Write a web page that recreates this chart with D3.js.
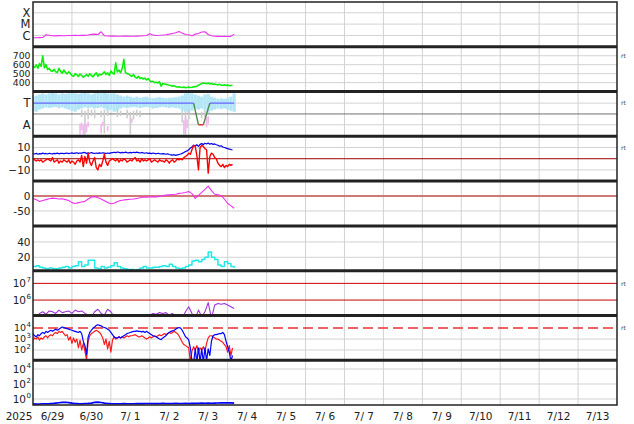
<!DOCTYPE html>
<html><head><meta charset="utf-8">
<script src="https://cdn.jsdelivr.net/npm/d3@7"></script>
<style>body{margin:0;background:#fff}svg{display:block}text{font-family:"DejaVu Sans",sans-serif;fill:#222}</style>
</head><body><svg id="c" width="634" height="424"></svg>
<script>
// ---------------- data ----------------
const dayLabels = ["6/29","6/30","7/ 1","7/ 2","7/ 3","7/ 4","7/ 5","7/ 6","7/ 7","7/ 8","7/ 9","7/10","7/11","7/12","7/13"];
const yearLabel = "2025";
// X-ray flux (units 1e-7 W/m2), every 2 h from 6/29 00UT
const xray = [6.3,6.2,6.4,6.5,11.5,10.5,9.4,9.2,9.6,9.3, 9.5,9.8,10,10.2,9.8,10.3,10.1,11,12.5,13,
 12,21,9.5,8.8,8.7,8.9,8.6,8.5,8.8,8.7, 8.6,8.5,8.7,9.0,9.5,10,14,11,10,10.3,
 10.8,11.5,13,15,17,22,16,12,11.5,9.5, 13,15,20,21,12,9.5,8.5,8.2,8,8.3, 8.1,8.2,13];
// solar wind speed km/s, hourly
const speed = [585,570,598,560,612,580,700,565,600,545, 560,530,528,548,520,512,560,525,505,540,
 515,498,520,505,480,470,500,485,470,495, 480,460,475,490,470,500,480,465,490,510,
 470,495,485,500,520,490,510,480,530,505, 495,620,520,540,510,560,660,510,500,495,
 480,470,490,460,450,470,445,455,440,450, 430,445,420,410,415,400,405,395,410,360,
 390,385,380,375,370,368,360,365,355,350, 352,348,345,350,342,346,350,345,348,352,
 355,360,370,380,390,395,392,388,396,385, 390,380,385,378,375,380,372,370,375,368,
 372,365,368,370];
// IMF sector: light-blue cloud range (every 2 h), T=+1, A=-1
const towardHi = [1.6,1.7,1.8,1.9,1.8,1.9,1.95,1.9,1.8,1.9, 1.85,1.9,1.95,1.9,1.85,1.9,1.95,1.9,1.8,1.9,
 1.95,1.9,1.95,1.9,1.85,1.9,1.8,1.7,1.6,1.7, 1.6,1.5,1.6,1.5,1.55,1.6,1.5,1.45,1.5,1.55,
 1.5,1.45,1.5,1.5,1.55,1.6,1.7,1.9,1.95,1.9, 1.8,1.7,1.6,1.8,1.85,1.6,1.5,1.4,1.45,1.4, 1.5,1.6,1.9];
const towardLo = [0.3,0.2,0.4,0.5,0.6,0.55,0.6,0.65,0.55,0.6, 0.5,0.4,0.3,0.2,0.4,0.5,0.6,0.55,0.6,0.5,
 0.55,0.6,0.5,0.3,0.4,0.2,0.3,0.5,0.6,0.55, 0.6,0.65,0.6,0.55,0.6,0.65,0.6,0.5,0.55,0.6,
 0.65,0.6,0.55,0.6,0.55,0.5,0.3,0.2,0.1,0.3, 0.5,0.4,0.5,0.3,0.1,0.3,0.4,0.5,0.45,0.5, 0.4,0.3,0.2];
const grayHours = [30,32,34,36,38,42,44,46,52,54,58,60,62,64,66,92,94,96,104,106];
const grayLo = [-0.3,-1.9,-0.5,-0.2,-0.4,-0.3,-1.8,-0.2,-0.3,-0.2,-0.4,-1.9,-0.5,-0.2,-0.3,-0.8,-1.9,-0.5,-0.4,-0.3];
const grayHi = [0.4,0.3,0.5,0.4,0.4,0.3,0.4,0.3,0.4,0.3,0.4,0.2,0.3,0.4,0.3,0.3,0.2,0.4,0.2,0.3];
const awayHours = [29,30,31,33,34,42,43,46,61,93,94,95,107,108];
const awayLo = [-1.9,-1.5,-1.9,-1.7,-1.2,-1.8,-1.1,-1.6,-0.8,-1.9,-1.6,-1.3,-1.2,-0.9];
const awayHi = [-0.9,-0.8,-1.0,-0.9,-0.7,-0.9,-0.7,-1.1,-0.4,-0.6,-0.3,-0.5,-0.3,-0.2];
const sectorHours = [0,99,102,105,109,124];
const sectorVals = [1,1,-1,-1,1,1];
// IMF Bt and Bz (nT), hourly
const bt = [4.5,4.2,4.8,4.0,4.6,4.3,5.0,4.4,4.7,4.2, 4.9,4.5,4.3,4.8,4.6,5.0,4.4,4.7,4.9,4.5,
 4.8,5.1,4.6,4.9,5.2,4.7,5.0,5.3,4.8,5.1, 5.0,5.4,5.6,4.6,5.2,4.9,5.5,5.0,4.7,5.1,
 4.8,5.2,4.9,5.3,5.0,4.7,5.1,4.8,5.2,5.5, 5.8,5.4,6.0,5.6,5.2,5.7,5.3,5.9,5.5,5.2,
 5.6,5.3,5.8,5.4,5.9,5.5,5.1,5.6,5.2,4.9, 5.3,4.8,5.0,4.6,5.1,4.7,4.4,4.9,4.5,4.2,
 4.6,4.3,4.0,4.4,3.8,3.5,3.2,3.6,3.0,3.4, 3.8,4.2,4.8,5.5,6.5,7.0,8.0,9.5,10.5,12.0,
 11.5,12.5,11.0,12.8,13.5,12.6,13.8,13.2,14.0,13.0, 13.6,12.8,13.2,12.5,12.0,11.2,11.6,10.5,10.0,9.5,
 9.0,8.6,8.2,7.8];
const bz = [0,-1,-2,-1,-2,-1,-3,-2,-1,0, -1,-2,1,-3,-2,-1,-4,-2,-3,-1,
 -2,-3,-1,-4,-2,-3,-5,-2,-1,-3, 3,-7,2,-4,5,-3,-6,-2,1,-8,
 -10,-5,-7,-2,4,-3,-6,-2,-1,0, -1,-2,0,-3,-1,-2,0,-1,-3,-2,
 -1,-2,0,1,-2,-1,-3,0,-2,-1, -2,-1,0,-3,-2,-1,-2,-3,-1,-2,
 -2,-3,-1,-2,-4,-2,-1,-3,-2,0, -1,0,-1,1,2,3,5,4,8,12,
 11,3,-10,10,12,11,9,8,-13,2, 5,4,1,0,-4,-6,-7,-5,-8,-6, -7,-5,-6,-5];
// Dst (nT), every 2 h
const dst = [-8,-12,-18,-15,-12,-9,-7,-8,-10,-9, -12,-15,-22,-25,-22,-20,-18,-10,-3,-2,
 -6,-10,-16,-22,-26,-24,-18,-15,-13,-12, -11,-10,-8,-6,-3,-4,-3,-2,-3,-1,
 1,3,4,5,6,9,10,12,15,8, -8,2,12,22,33,18,6,4,2,-10, -25,-32,-41];
// geomagnetic activity index, every 2 h
const activity = [8,9,7,6,5,6,5,5,6,7, 8,6,8,9,14,8,10,16,16,6,
 5,8,6,7,9,13,8,6,5,4, 4,3,4,6,8,6,6,7,7,8,
 9,8,11,8,6,5,6,8,10,15, 16,14,17,20,27,20,17,10,8,14, 12,8,6];
// electron flux (log10), every 2 h
const electronLog = [4.9,4.9,5.2,5.3,5.15,5.35,5.3,5.2,5.4,5.25, 5.3,5.35,5.2,5.4,5.3,5.35,5.2,5.1,5.0,5.3,
 5.45,5.2,5.1,5.45,5.3,5.0,4.8,4.8,4.8,4.8, 4.8,4.8,4.8,4.8,4.8,4.8,5.1,5.2,5.15,5.25,
 5.2,5.25,5.1,5.2,5.0,5.15,4.9,5.3,5.6,5.2, 4.9,5.4,5.0,5.3,5.85,4.9,5.7,5.8,5.75,5.8, 5.7,5.6,5.5];
// particle flux (log10), hourly: blue and red traces
const fluxBlueLog = [3.5,3.3,3.2,3.4,3.3,3.5,3.6,3.5,3.7,3.6, 3.7,3.8,3.7,3.8,3.9,3.8,3.9,4.0,4.1,4.05,
 4.0,3.95,3.9,3.85,3.8,3.75,3.7,3.65,3.6,3.7, 3.5,2.8,2.4,1.6,3.2,3.6,3.8,4.0,4.1,4.25,
 4.3,4.25,4.2,4.1,4.05,4.0,3.9,3.8,3.6,3.4, 3.2,3.1,3.1,3.2,3.1,3.2,3.3,3.4,3.5,3.55,
 3.6,3.65,3.7,3.7,3.75,3.7,3.7,3.65,3.7,3.6, 3.7,3.6,3.5,3.4,3.3,3.25,3.2,3.1,3.0,2.95,
 3.1,3.2,3.3,3.5,3.6,3.7,3.75,3.8,3.9,4.0, 4.05,4.0,3.8,3.5,3.2,3.1,2.9,2.2,1.0,0.8,
 2.1,0.9,2.2,0.9,2.1,0.9,2.2,1.0,2.1,1.5, 2.8,3.3,3.4,3.4,3.45,3.5,3.5,3.6,3.4,2.8, 2.3,1.8,1.0,1.5];
const fluxRedLog = [2.9,3.1,3.0,3.2,2.9,3.1,3.0,3.2,3.3,3.1, 3.3,3.4,3.3,3.5,3.6,3.5,3.7,3.6,3.7,3.5,
 3.3,3.4,2.9,3.2,2.6,3.1,2.7,3.0,2.2,2.9, 2.0,2.6,1.9,1.1,2.8,3.3,3.5,3.6,3.7,3.8,
 3.7,3.6,3.4,3.1,2.5,3.0,2.1,2.8,1.8,2.9, 3.2,3.0,3.1,3.2,3.1,3.2,3.1,3.2,3.3,3.2,
 3.3,3.3,3.35,3.4,3.3,3.2,3.2,3.3,3.2,3.1, 3.0,3.1,3.2,3.1,3.2,3.3,3.2,3.3,3.4,3.3,
 3.4,3.5,3.4,3.5,3.6,3.5,3.6,3.7,3.6,3.5, 3.3,3.0,2.7,2.5,2.4,2.3,2.2,0.9,1.9,2.3,
 2.0,2.4,1.8,2.2,2.0,2.3,1.9,2.6,3.1,3.3, 3.3,3.2,3.1,3.0,3.0,2.9,2.8,2.7,2.5,2.3, 1.8,2.4,1.5,2.2];
// bottom panel (log10), every 2 h
const bottomLog = [-0.65,-0.68,-0.66,-0.64,-0.63,-0.62,-0.6,-0.55,-0.5,-0.45,
 -0.44,-0.48,-0.55,-0.6,-0.62,-0.63,-0.6,-0.58,-0.55,-0.45,
 -0.42,-0.47,-0.55,-0.6,-0.62,-0.63,-0.64,-0.63,-0.62,-0.63,
 -0.64,-0.63,-0.62,-0.61,-0.62,-0.6,-0.61,-0.6,-0.62,-0.6,
 -0.58,-0.6,-0.59,-0.6,-0.58,-0.6,-0.59,-0.58,-0.6,-0.57,
 -0.58,-0.56,-0.55,-0.57,-0.55,-0.56,-0.55,-0.54,-0.5,-0.52,
 -0.5,-0.52,-0.55];

// ---------------- layout ----------------
const L = 33, R = 617, TOP = 2, BOT = 405, PH = (BOT - TOP) / 9;
const START = Date.UTC(2025, 5, 29), END = Date.UTC(2025, 6, 14), HR = 3600e3;
const tt = h => new Date(START + h * HR);
const svg = d3.select("#c");
const x = d3.scaleUtc().domain([new Date(START), new Date(END)]).range([L, R]);
const pTop = i => TOP + i * PH;

const P = [
  {log: true,  dom: [1e-7, Math.pow(10, -3.05)]},
  {log: false, dom: [300, 800]},
  {log: false, dom: [-2.07, 2.07]},
  {log: false, dom: [-20, 20]},
  {log: false, dom: [-100, 50]},
  {log: false, dom: [2.5, 61]},
  {log: true,  dom: [Math.pow(10, 5.08), Math.pow(10, 7.76)]},
  {log: true,  dom: [Math.pow(10, 1.07), Math.pow(10, 5.15)]},
  {log: true,  dom: [Math.pow(10, -0.8), Math.pow(10, 5.17)]}
];
const ys = P.map((p, i) => (p.log ? d3.scaleLog() : d3.scaleLinear()).domain(p.dom).range([pTop(i) + PH, pTop(i)]));

const defs = svg.append("defs");
P.forEach((p, i) => {
  defs.append("clipPath").attr("id", "cp" + i).append("rect")
    .attr("x", L).attr("y", pTop(i)).attr("width", R - L).attr("height", PH);
});

// vertical grid
const grid = svg.append("g");
d3.utcDay.range(new Date(START + 1), new Date(END)).forEach(d => {
  grid.append("line").attr("x1", x(d)).attr("x2", x(d)).attr("y1", TOP).attr("y2", BOT)
    .attr("stroke", "#d2d2d2").attr("stroke-width", 1);
});

// horizontal grid + labels
const tickDefs = [
  [{v: 1e-4, t: "X"}, {v: 1e-5, t: "M"}, {v: 1e-6, t: "C"}],
  [{v: 700, t: "700"}, {v: 600, t: "600"}, {v: 500, t: "500"}, {v: 400, t: "400"}],
  [{v: 1, t: "T"}, {v: -1, t: "A"}],
  [{v: 10, t: "10"}, {v: 0, t: "0", nogrid: true}, {v: -10, t: "\u221210"}],
  [{v: 0, t: "0", nogrid: true}, {v: -50, t: "-50"}],
  [{v: 40, t: "40"}, {v: 20, t: "20"}],
  [{v: 1e7, e: "7", nogrid: true}, {v: 1e6, e: "6", nogrid: true}],
  [{v: 1e4, e: "4", nogrid: true}, {v: 1e3, e: "3"}, {v: 1e2, e: "2"}],
  [{v: 1e4, e: "4"}, {v: 1e2, e: "2"}, {v: 1, e: "0"}]
];
const lab = svg.append("g");
tickDefs.forEach((tks, i) => {
  const fs = i === 1 ? 9.3 : 10.5;
  tks.forEach(tk => {
    const yy = ys[i](tk.v);
    if (!tk.nogrid) grid.append("line").attr("x1", L).attr("x2", R).attr("y1", yy).attr("y2", yy)
      .attr("stroke", "#d2d2d2").attr("stroke-width", 1);
    if (tk.e !== undefined) {
      lab.append("text").attr("x", 26).attr("y", yy).attr("dy", "0.36em").attr("text-anchor", "end")
        .attr("font-size", i === 7 ? 9.5 : 10.5).text("10");
      lab.append("text").attr("x", 26.5).attr("y", yy - 4).attr("dy", "0.36em")
        .attr("font-size", 7).text(tk.e);
    } else {
      const isLetter = /[A-Z]/.test(tk.t);
      lab.append("text").attr("x", 30.5).attr("y", yy).attr("dy", "0.36em").attr("text-anchor", "end")
        .attr("font-size", isLetter ? 11.5 : fs).text(tk.t);
    }
  });
});

// reference lines
const hline = (i, v, color, w, dash) => {
  const l = svg.append("line").attr("x1", L).attr("x2", R).attr("y1", ys[i](v)).attr("y2", ys[i](v))
    .attr("stroke", color).attr("stroke-width", w);
  if (dash) l.attr("stroke-dasharray", dash);
};
hline(2, 0, "#707070", 1);
hline(3, 0, "#a00000", 1);
hline(4, 0, "#d07878", 2);
hline(6, 1e7, "#cc0000", 1);
hline(6, 1e6, "#cc0000", 1);
hline(7, 1e4, "#e83030", 1.5, "10,5");

// helpers
const ser = (arr, step, f) => arr.map((v, i) => ({t: tt(i * step), v: f ? f(v) : v}));
const drawLine = (i, data, color, w, curve) => {
  const gen = d3.line().x(d => x(d.t)).y(d => ys[i](d.v));
  if (curve) gen.curve(curve);
  svg.append("path").attr("clip-path", "url(#cp" + i + ")").attr("d", gen(data))
    .attr("fill", "none").attr("stroke", color).attr("stroke-width", w).attr("stroke-linejoin", "round");
};

// panel 0: X-ray
drawLine(0, ser(xray, 2, v => v * 1e-7), "#ee30ee", 1.1);
// panel 1: speed
drawLine(1, ser(speed, 1), "#10ee10", 1.6);
// panel 2: sector
const g2 = svg.append("g").attr("clip-path", "url(#cp2)");
const bw = x(tt(2)) - x(tt(0));
towardHi.forEach((hi, i) => {
  const lo = towardLo[i];
  g2.append("rect").attr("x", x(tt(i * 2)) - bw / 2).attr("width", bw)
    .attr("y", ys[2](hi)).attr("height", ys[2](lo) - ys[2](hi)).attr("fill", "#b2e6f6");
});
grayHours.forEach((h, i) => {
  g2.append("rect").attr("x", x(tt(h)) - 0.8).attr("width", 1.6)
    .attr("y", ys[2](grayHi[i])).attr("height", ys[2](grayLo[i]) - ys[2](grayHi[i])).attr("fill", "#cccccc");
});
awayHours.forEach((h, i) => {
  g2.append("rect").attr("x", x(tt(h)) - 0.8).attr("width", 1.6)
    .attr("y", ys[2](awayHi[i])).attr("height", ys[2](awayLo[i]) - ys[2](awayHi[i])).attr("fill", "#f2b6f0");
});
for (let k = 0; k < sectorHours.length - 1; k++) {
  const a = sectorVals[k], b = sectorVals[k + 1];
  const col = (a === 1 && b === 1) ? "#6464ff" : (a === -1 && b === -1) ? "#e03030" : "#4c8a4c";
  g2.append("line").attr("x1", x(tt(sectorHours[k]))).attr("x2", x(tt(sectorHours[k + 1])))
    .attr("y1", ys[2](a)).attr("y2", ys[2](b)).attr("stroke", col).attr("stroke-width", 1.4);
}
// panel 3: IMF
drawLine(3, ser(bt, 1), "#0000ee", 1.2);
drawLine(3, ser(bz, 1), "#ff0000", 1.4);
// panel 4: Dst
drawLine(4, ser(dst, 2), "#ee30ee", 1.1);
// panel 5: activity
drawLine(5, ser(activity, 2), "#20e8e8", 1.5, d3.curveStepAfter);
// panel 6: electrons
drawLine(6, ser(electronLog, 2, v => Math.pow(10, v)), "#a032d8", 1.1);
// panel 7: particle flux
drawLine(7, ser(fluxRedLog, 1, v => Math.pow(10, v)), "#ff1a1a", 1.2);
drawLine(7, ser(fluxBlueLog, 1, v => Math.pow(10, v)), "#0000ff", 1.2);
// panel 8
drawLine(8, ser(bottomLog, 2, v => Math.pow(10, v)), "#0000ff", 1.6);

// frame and separators
for (let i = 1; i < 9; i++) {
  svg.append("line").attr("x1", L).attr("x2", R).attr("y1", pTop(i)).attr("y2", pTop(i))
    .attr("stroke", "#222").attr("stroke-width", 3);
}
svg.append("rect").attr("x", L).attr("y", TOP).attr("width", R - L).attr("height", BOT - TOP)
  .attr("fill", "none").attr("stroke", "#222").attr("stroke-width", 1.5);

// "rt" marks
[[1, 700], [2, 1], [3, 10], [6, 1e7], [7, 1e4]].forEach(([i, v]) => {
  svg.append("text").attr("x", 621).attr("y", ys[i](v)).attr("dy", "0.36em")
    .attr("font-size", 6).style("fill", "#444").text("rt");
});

// x labels
svg.append("text").attr("x", 19).attr("y", 420).attr("text-anchor", "middle").attr("font-size", 10.5).text(yearLabel);
dayLabels.forEach((s, i) => {
  svg.append("text").attr("x", x(tt(i * 24 + 12))).attr("y", 420).attr("text-anchor", "middle")
    .attr("font-size", 10.5).attr("xml:space", "preserve").style("white-space", "pre").text(s);
});
</script></body></html>
